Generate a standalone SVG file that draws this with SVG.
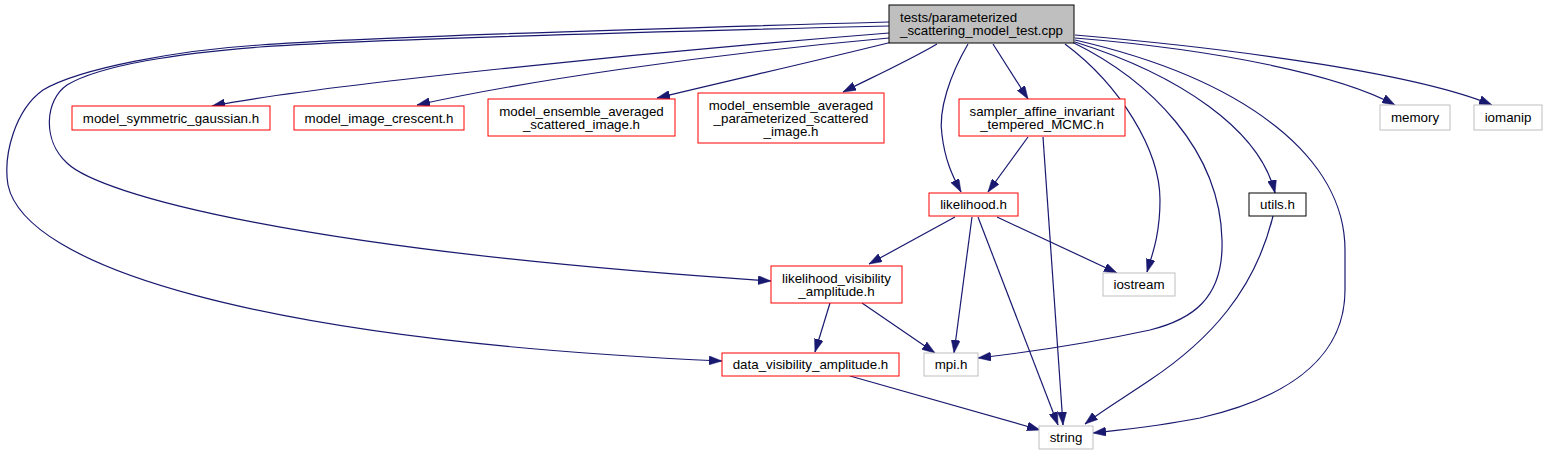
<svg xmlns="http://www.w3.org/2000/svg" width="1548" height="456" viewBox="0 0 1548 456">
<style>
  .bg{fill:#ffffff}
  .red rect{fill:#ffffff;stroke:#ff0000;stroke-width:1}
  .gray rect{fill:#ffffff;stroke:#bfbfbf;stroke-width:1}
  .blk rect{fill:#ffffff;stroke:#000000;stroke-width:1}
  .root rect{fill:#bfbfbf;stroke:#000000;stroke-width:1}
  text{font-family:"Liberation Sans",Arial,Helvetica,sans-serif;font-size:13.33px;fill:#000000}
  .c{text-anchor:middle}
  #edges path{fill:none;stroke:#191970;stroke-width:1.2;marker-end:url(#arr)}
</style>
<defs>
  <marker id="arr" markerUnits="userSpaceOnUse" markerWidth="13" markerHeight="9" viewBox="0 0 13 9" refX="13" refY="4.5" orient="auto">
    <path d="M0,0 L13,4.5 L0,9 z" fill="#191970" stroke="#191970" stroke-width="0.5"/>
  </marker>
</defs>
<rect class="bg" x="0" y="0" width="1548" height="456"/>
<g id="edges">
  <path d="M889,33 C650,52 320,85 212,106"/>
  <path d="M889,38 C700,55 520,82 417,105"/>
  <path d="M892,42 C820,60 740,78 657,98"/>
  <path d="M937,44 C910,60 875,76 843,92"/>
  <path d="M993,44 L1028,99"/>
  <path d="M968,44 C950,75 938,110 942,135 C945,160 952,175 961,192"/>
  <path d="M1028,137 L988,192"/>
  <path d="M955,217 L869,264"/>
  <path d="M997,217 L1117,273"/>
  <path d="M972,217 L954,353"/>
  <path d="M978,217 L1058,425"/>
  <path d="M1043,137 L1063,425"/>
  <path d="M830,303 L815,352"/>
  <path d="M862,303 L935,353"/>
  <path d="M850,376 L1040,430"/>
  <path d="M1065,44 C1120,85 1160,150 1160,200 C1160,235 1152,255 1147,272"/>
  <path d="M1072,42 C1150,80 1220,150 1222,240 C1224,300 1190,320 1150,330 C1090,343 1030,352 978,358"/>
  <path d="M1075,42 C1180,75 1260,130 1275,193"/>
  <path d="M1273,216 C1255,290 1210,340 1150,380 C1125,397 1100,412 1085,424"/>
  <path d="M1075,40 C1250,80 1345,160 1345,250 L1345,290 C1345,350 1300,395 1200,418 C1160,426 1120,430 1093,433"/>
  <path d="M1075,38 C1220,50 1340,75 1395,105"/>
  <path d="M1075,35 C1250,50 1420,75 1492,105"/>
  <path d="M889,26 C600,33 350,40 260,47 C180,53 100,65 67,85 C45,100 42,140 67,163 C100,195 300,250 771,281"/>
  <path d="M889,22 C600,30 350,38 260,45 C180,50 80,68 43,90 C15,110 3,155 8,185 C25,265 250,340 722,361"/>
</g>
<g id="root" class="root">
  <rect x="889" y="5" width="185" height="38"/>
  <text x="900" y="22">tests/parameterized</text>
  <text x="900" y="35">_scattering_model_test.cpp</text>
</g>
<g id="model_symmetric_gaussian" class="red">
  <rect x="72" y="106" width="198" height="24"/>
  <text class="c" x="171" y="122.5">model_symmetric_gaussian.h</text>
</g>
<g id="model_image_crescent" class="red">
  <rect x="294" y="106" width="170" height="24"/>
  <text class="c" x="379" y="122.5">model_image_crescent.h</text>
</g>
<g id="model_ensemble_averaged_scattered_image" class="red">
  <rect x="488" y="99" width="187" height="37"/>
  <text class="c" x="581.5" y="115.5">model_ensemble_averaged</text>
  <text class="c" x="581.5" y="128.5">_scattered_image.h</text>
</g>
<g id="model_ensemble_averaged_parameterized_scattered_image" class="red">
  <rect x="698" y="93" width="186" height="50"/>
  <text class="c" x="791" y="109.5">model_ensemble_averaged</text>
  <text class="c" x="791" y="122.5">_parameterized_scattered</text>
  <text class="c" x="791" y="135.5">_image.h</text>
</g>
<g id="sampler" class="red">
  <rect x="959" y="99" width="166" height="37"/>
  <text class="c" x="1042" y="115.5">sampler_affine_invariant</text>
  <text class="c" x="1042" y="128.5">_tempered_MCMC.h</text>
</g>
<g id="memory" class="gray">
  <rect x="1380" y="105" width="70" height="25"/>
  <text class="c" x="1415" y="122">memory</text>
</g>
<g id="iomanip" class="gray">
  <rect x="1474" y="105" width="68" height="25"/>
  <text class="c" x="1508" y="122">iomanip</text>
</g>
<g id="likelihood" class="red">
  <rect x="929" y="193" width="89" height="23"/>
  <text class="c" x="973.5" y="209">likelihood.h</text>
</g>
<g id="utils" class="blk">
  <rect x="1249" y="193" width="57" height="23"/>
  <text class="c" x="1277.5" y="209">utils.h</text>
</g>
<g id="likelihood_visibility_amplitude" class="red">
  <rect x="771" y="266" width="131" height="37"/>
  <text class="c" x="836.5" y="282.5">likelihood_visibility</text>
  <text class="c" x="836.5" y="295.5">_amplitude.h</text>
</g>
<g id="iostream" class="gray">
  <rect x="1103" y="273" width="72" height="23"/>
  <text class="c" x="1139" y="289">iostream</text>
</g>
<g id="data_visibility_amplitude" class="red">
  <rect x="722" y="353" width="177" height="23"/>
  <text class="c" x="810.5" y="369">data_visibility_amplitude.h</text>
</g>
<g id="mpi" class="gray">
  <rect x="924" y="353" width="54" height="23"/>
  <text class="c" x="951" y="369">mpi.h</text>
</g>
<g id="string" class="gray">
  <rect x="1039" y="426" width="54" height="23"/>
  <text class="c" x="1066" y="442">string</text>
</g>
</svg>
